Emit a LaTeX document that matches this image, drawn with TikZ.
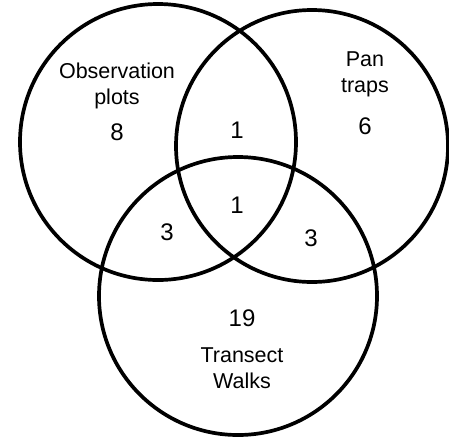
\documentclass[tikz,border=0pt]{standalone}
\usepackage{fontspec}
\setmainfont{Liberation Sans}
\usetikzlibrary{positioning}
\tikzset{
  setcircle/.style={circle, draw=black, line width=3.7pt, minimum size=#1, inner sep=0pt},
  setlabel/.style={align=center, font=\fontsize{21.5}{26}\selectfont},
  setcount/.style={font=\fontsize{24}{26}\selectfont}
}

\begin{document}
\begin{tikzpicture}[x=1pt, y=-1pt]
  \useasboundingbox (0,0) rectangle (449,437);
  % the three sets
  \node[setcircle=276pt] (obs) at (158,142) {};
  \node[setcircle=272pt] (pan) at (312,146) {};
  \node[setcircle=278pt] (walk) at (238,296) {};
  % set names
  \node[setlabel] (obsname) at (117,86) {Observation\\plots};
  \node[setlabel] (panname) at (365,74) {Pan\\traps};
  \node[setlabel] (walkname) at (242,368) {Transect\\Walks};
  % counts
  \node[setcount] (obsonly) at (117,132) {8};
  \node[setcount] (panonly) at (365,126) {6};
  \node[setcount] (walkonly) at (242,318) {19};
  \node[setcount] (obspan) at (237,130) {1};
  \node[setcount] (allthree) at (237,205) {1};
  \node[setcount] (obswalk) at (167,232) {3};
  \node[setcount] (panwalk) at (311,238) {3};
\end{tikzpicture}
\end{document}
